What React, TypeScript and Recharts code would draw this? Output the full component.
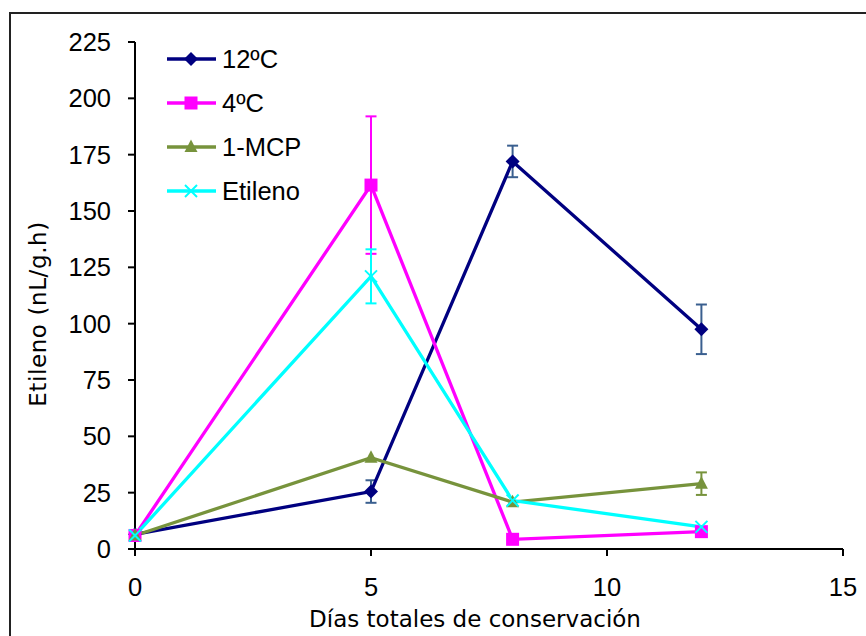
import React from "react";
import { LineChart, Line, XAxis, YAxis, ErrorBar, Legend } from "recharts";

const days = [0, 5, 8, 12];
const s12 = [6.5, 25.5, 172, 97.5];
const e12 = [null, 5, 7, 11];
const s4 = [6, 161.5, 4.3, 7.7];
const e4 = [null, 30.5, null, null];
const sMcp = [6, 40.5, 20.8, 29];
const eMcp = [null, null, null, 5];
const sEt = [6, 121, 21.5, 9.8];
const eEt = [null, 12, null, null];
const xTicks = [0, 5, 10, 15];
const yTicks = [0, 25, 50, 75, 100, 125, 150, 175, 200, 225];
const seriesNames = ["12ºC", "4ºC", "1-MCP", "Etileno"];

const data = days.map((d, i) => ({
  x: d,
  s12: s12[i],
  e12: e12[i],
  s4: s4[i],
  e4: e4[i],
  sMcp: sMcp[i],
  eMcp: eMcp[i],
  sEt: sEt[i],
  eEt: eEt[i],
}));

const series = [
  { key: "s12", err: "e12", name: seriesNames[0], color: "#000080", errColor: "#3A5F8F", shape: "diamond" },
  { key: "s4", err: "e4", name: seriesNames[1], color: "#FF00FF", errColor: "#FF00FF", shape: "square" },
  { key: "sMcp", err: "eMcp", name: seriesNames[2], color: "#77933C", errColor: "#77933C", shape: "triangle" },
  { key: "sEt", err: "eEt", name: seriesNames[3], color: "#00FFFF", errColor: "#00FFFF", shape: "x" },
];

function Marker({ shape, cx, cy, color }: { shape: string; cx: number; cy: number; color: string }) {
  if (shape === "diamond") {
    return <polygon points={`${cx},${cy - 7} ${cx + 7},${cy} ${cx},${cy + 7} ${cx - 7},${cy}`} fill={color} />;
  }
  if (shape === "square") {
    return <rect x={cx - 6.5} y={cy - 6.5} width={13} height={13} fill={color} />;
  }
  if (shape === "triangle") {
    return <polygon points={`${cx},${cy - 7.5} ${cx + 6.5},${cy + 5} ${cx - 6.5},${cy + 5}`} fill={color} />;
  }
  return (
    <g stroke={color} strokeWidth={2}>
      <line x1={cx - 6} y1={cy - 6} x2={cx + 6} y2={cy + 6} />
      <line x1={cx - 6} y1={cy + 6} x2={cx + 6} y2={cy - 6} />
    </g>
  );
}

function makeDot(shape: string, color: string) {
  return (props: any) => {
    const { cx, cy, index } = props;
    const k = `dot-${shape}-${index}`;
    if (cx == null || cy == null) return <g key={k} />;
    return (
      <g key={k}>
        <Marker shape={shape} cx={cx} cy={cy} color={color} />
      </g>
    );
  };
}

const LegendContent = () => (
  <div style={{ display: "flex", flexDirection: "column" }}>
    {series.map((s) => (
      <div key={s.key} style={{ display: "flex", alignItems: "center", height: 44 }}>
        <svg width={50} height={20} style={{ overflow: "visible" }}>
          <line x1={0} y1={10} x2={49} y2={10} stroke={s.color} strokeWidth={3.3} />
          <Marker shape={s.shape} cx={24} cy={10} color={s.color} />
        </svg>
        <span style={{ fontFamily: "'Liberation Sans', Arial, sans-serif", fontSize: 25.5, marginLeft: 5, color: "#000" }}>
          {s.name}
        </span>
      </div>
    ))}
  </div>
);

const tickStyle = { fill: "#000", fontSize: 25.5, fontFamily: "'Liberation Sans', Arial, sans-serif" };
const titleFont = "'DejaVu Sans', sans-serif";

export default function App() {
  return (
    <div style={{ position: "relative", width: 866, height: 636, overflow: "hidden", background: "#fff" }}>
      <style>{`body{margin:0}`}</style>
      <div
        style={{
          position: "absolute",
          left: 9,
          top: 12,
          width: 900,
          height: 700,
          borderTop: "2px solid #222",
          borderLeft: "2px solid #222",
          boxSizing: "border-box",
        }}
      />
      <div style={{ position: "absolute", left: 0, top: 0 }}>
        <LineChart width={866} height={636} data={data} margin={{ top: 42, right: 23, left: 0, bottom: 0 }}>
          <XAxis
            dataKey="x"
            type="number"
            domain={[0, 15]}
            ticks={xTicks}
            height={87}
            tickSize={7}
            tickMargin={22}
            tick={tickStyle}
            axisLine={{ stroke: "#000", strokeWidth: 2 }}
            tickLine={{ stroke: "#000", strokeWidth: 2 }}
            label={{
              content: () => (
                <text x={475} y={627} textAnchor="middle" fontFamily={titleFont} fontSize={23} fill="#000">
                  Días totales de conservación
                </text>
              ),
            }}
          />
          <YAxis
            type="number"
            domain={[0, 225]}
            ticks={yTicks}
            width={135}
            tickSize={7}
            tickMargin={17}
            tick={tickStyle}
            axisLine={{ stroke: "#000", strokeWidth: 2 }}
            tickLine={{ stroke: "#000", strokeWidth: 2 }}
            label={{
              content: () => (
                <text
                  x={38}
                  y={314}
                  transform="rotate(-90 38 314)"
                  textAnchor="middle"
                  dominantBaseline="central"
                  fontFamily={titleFont}
                  fontSize={23}
                  letterSpacing={0.6}
                  fill="#000"
                >
                  Etileno (nL/g.h)
                </text>
              ),
            }}
          />
          <Legend
            layout="vertical"
            align="center"
            verticalAlign="middle"
            content={() => <LegendContent />}
            wrapperStyle={{ left: 167, top: 37, width: "auto", height: "auto" }}
          />
          {series.map((s) => (
            <Line
              key={s.key}
              dataKey={s.key}
              name={s.name}
              stroke={s.color}
              strokeWidth={3.3}
              isAnimationActive={false}
              dot={makeDot(s.shape, s.color)}
              activeDot={false}
            >
              <ErrorBar dataKey={s.err} width={5.5} strokeWidth={2} stroke={s.errColor} direction="y" />
            </Line>
          ))}
        </LineChart>
      </div>
    </div>
  );
}
